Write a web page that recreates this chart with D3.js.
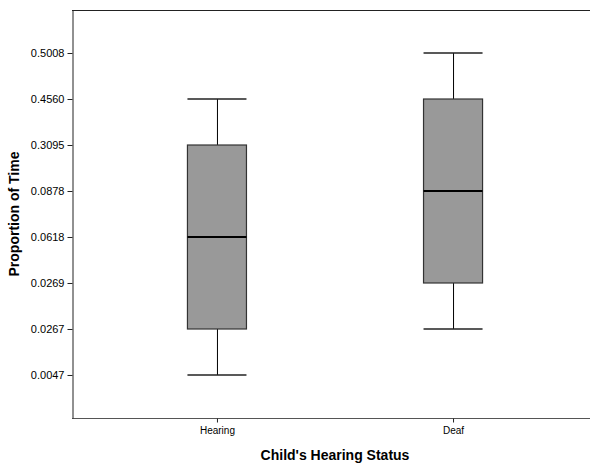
<!DOCTYPE html>
<html>
<head>
<meta charset="utf-8">
<script src="https://cdn.jsdelivr.net/npm/d3@7"></script>
<style>
body { margin: 0; background: #fff; }
text { font-family: "Liberation Sans", Arial, sans-serif; }
</style>
</head>
<body>
<div id="chart"></div>
<script>
// Categories and the (ordinal) y axis tick labels
const groups = ["Hearing", "Deaf"];
const yTicks = ["0.0047", "0.0267", "0.0269", "0.0618", "0.0878", "0.3095", "0.4560", "0.5008"];

// Box statistics per group (values are y-tick labels)
const whiskerLow = ["0.0047", "0.0267"];
const q1 = ["0.0267", "0.0269"];
const median = ["0.0618", "0.0878"];
const q3 = ["0.3095", "0.4560"];
const whiskerHigh = ["0.4560", "0.5008"];

const W = 590, H = 463;
const margin = { top: 10, right: 0, bottom: 45, left: 72 };
const plotRight = 598;

const svg = d3.select("#chart")
.append("svg")
.attr("width", W)
.attr("height", H);

const x = d3.scalePoint()
.domain(groups)
.range([margin.left, plotRight])
.padding(0.614);

const y = d3.scalePoint()
.domain(yTicks)
.range([H - margin.bottom, margin.top])
.padding(0.935);

const boxes = groups.map((g, i) => ({
  name: g,
  lo: whiskerLow[i], q1: q1[i], med: median[i], q3: q3[i], hi: whiskerHigh[i]
}));

const boxW = x.step() * 0.25;
const capW = boxW / 2;

// Frame
svg.append("line")
.attr("x1", margin.left).attr("x2", W)
.attr("y1", margin.top + 0.5).attr("y2", margin.top + 0.5)
.attr("stroke", "#222");
svg.append("line")
.attr("x1", margin.left).attr("x2", W)
.attr("y1", H - margin.bottom + 0.5).attr("y2", H - margin.bottom + 0.5)
.attr("stroke", "#555");

// Y axis
const yAxis = svg.append("g")
.attr("transform", `translate(${margin.left + 0.5},0)`)
.call(d3.axisLeft(y).tickSize(5).tickSizeOuter(0).tickPadding(3));
yAxis.select(".domain").attr("stroke", "#222");
yAxis.selectAll(".tick line").attr("stroke", "#222");
yAxis.selectAll("text").attr("font-size", 11).attr("fill", "#000")
.attr("font-family", "'Liberation Sans', Arial, sans-serif");

// X axis
const xAxis = svg.append("g")
.attr("transform", `translate(0,${H - margin.bottom + 0.5})`)
.call(d3.axisBottom(x).tickSize(4).tickSizeOuter(0).tickPadding(4));
xAxis.select(".domain").remove();
xAxis.selectAll(".tick line").attr("stroke", "#222");
xAxis.selectAll("text").attr("font-size", 10).attr("fill", "#000")
.attr("font-family", "'Liberation Sans', Arial, sans-serif");

// Boxes
const g = svg.selectAll(".box")
.data(boxes)
.enter()
.append("g")
.attr("class", "box");

g.append("line")
.attr("x1", d => x(d.name) + 0.5).attr("x2", d => x(d.name) + 0.5)
.attr("y1", d => y(d.hi)).attr("y2", d => y(d.q3))
.attr("stroke", "#000");
g.append("line")
.attr("x1", d => x(d.name) + 0.5).attr("x2", d => x(d.name) + 0.5)
.attr("y1", d => y(d.q1)).attr("y2", d => y(d.lo))
.attr("stroke", "#000");

g.append("line")
.attr("x1", d => x(d.name) - capW).attr("x2", d => x(d.name) + capW)
.attr("y1", d => y(d.hi)).attr("y2", d => y(d.hi))
.attr("stroke", "#222").attr("stroke-width", 1.5);
g.append("line")
.attr("x1", d => x(d.name) - capW).attr("x2", d => x(d.name) + capW)
.attr("y1", d => y(d.lo)).attr("y2", d => y(d.lo))
.attr("stroke", "#222").attr("stroke-width", 1.5);

g.append("rect")
.attr("x", d => x(d.name) - boxW / 2)
.attr("y", d => y(d.q3))
.attr("width", boxW)
.attr("height", d => y(d.q1) - y(d.q3))
.attr("fill", "#999999")
.attr("stroke", "#333")
.attr("stroke-width", 1.2);

g.append("line")
.attr("x1", d => x(d.name) - boxW / 2).attr("x2", d => x(d.name) + boxW / 2)
.attr("y1", d => y(d.med)).attr("y2", d => y(d.med))
.attr("stroke", "#000").attr("stroke-width", 2);

// Axis titles
svg.append("text")
.attr("x", 335).attr("y", 460)
.attr("text-anchor", "middle")
.attr("font-size", 14).attr("font-weight", "bold")
.text("Child's Hearing Status");

svg.append("text")
.attr("transform", `translate(19,214) rotate(-90)`)
.attr("text-anchor", "middle")
.attr("font-size", 14).attr("font-weight", "bold")
.text("Proportion of Time");
</script>
</body>
</html>
